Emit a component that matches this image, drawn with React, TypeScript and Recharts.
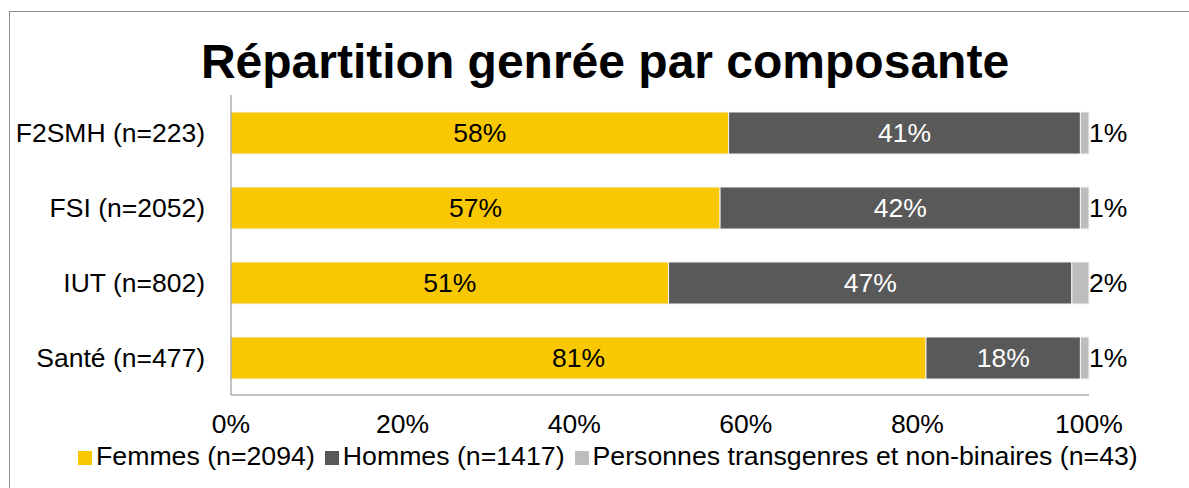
import { BarChart, Bar, XAxis, YAxis, Legend, LabelList } from "recharts";

const categories = ["F2SMH (n=223)", "FSI (n=2052)", "IUT (n=802)", "Santé (n=477)"];
const femmes = [58, 57, 51, 81];
const hommes = [41, 42, 47, 18];
const autres = [1, 1, 2, 1];
const xTicks = [0, 20, 40, 60, 80, 100];

const seriesNames = {
  femmes: "Femmes (n=2094)",
  hommes: "Hommes (n=1417)",
  autres: "Personnes transgenres et non-binaires (n=43)",
};

const data = categories.map((name, i) => ({
  name,
  femmes: femmes[i],
  hommes: hommes[i],
  autres: autres[i],
}));

const FONT = "'Liberation Sans', Arial, sans-serif";
const FS = 26.5;
const pct = (v: any) => `${v}%`;

const App = () => {
  return (
    <div style={{ position: "absolute", left: 0, top: 0, width: 1189, height: 488, fontFamily: FONT }}>
      <div
        style={{
          position: "absolute",
          left: 9,
          top: 11,
          width: 1180,
          height: 477,
          boxSizing: "border-box",
          borderLeft: "1px solid #8c8c8c",
          borderTop: "1px solid #8c8c8c",
        }}
      />
      <div
        style={{
          position: "absolute",
          left: 0,
          top: 34,
          width: 1210,
          textAlign: "center",
          fontSize: 48,
          fontWeight: "bold",
          color: "#000",
          whiteSpace: "nowrap",
        }}
      >
        Répartition genrée par composante
      </div>
      <div style={{ position: "absolute", left: 0, top: 0 }}>
        <BarChart
          width={1189}
          height={488}
          data={data}
          layout="vertical"
          margin={{ top: 95, right: 100, bottom: 53, left: 0 }}
          style={{ fontFamily: FONT }}
        >
          <XAxis
            type="number"
            domain={[0, 100]}
            ticks={xTicks}
            tickFormatter={pct}
            height={40}
            tickLine={false}
            tickMargin={13}
            axisLine={{ stroke: "#868686" }}
            tick={{ fill: "#000", fontSize: FS }}
          />
          <YAxis
            type="category"
            dataKey="name"
            width={231}
            tickLine={false}
            tickMargin={20}
            axisLine={{ stroke: "#868686" }}
            tick={{ fill: "#000", fontSize: FS }}
          />
          <Legend
            layout="horizontal"
            verticalAlign="middle"
            iconType="square"
            iconSize={14}
            wrapperStyle={{ left: 78, top: 441, width: "auto", fontSize: 26.7, whiteSpace: "nowrap" }}
            formatter={(value) => <span style={{ color: "#000" }}>{value}</span>}
          />
          <Bar
            dataKey="femmes"
            name={seriesNames.femmes}
            stackId="a"
            fill="#FAC800"
            stroke="#f4f4f4"
            strokeWidth={1}
            barSize={42}
            isAnimationActive={false}
          >
            <LabelList dataKey="femmes" position="center" fill="#000" fontSize={FS} formatter={pct} />
          </Bar>
          <Bar
            dataKey="hommes"
            name={seriesNames.hommes}
            stackId="a"
            fill="#595959"
            stroke="#f4f4f4"
            strokeWidth={1}
            barSize={42}
            isAnimationActive={false}
          >
            <LabelList dataKey="hommes" position="center" fill="#fff" fontSize={FS} formatter={pct} />
          </Bar>
          <Bar
            dataKey="autres"
            name={seriesNames.autres}
            stackId="a"
            fill="#BDBDBD"
            stroke="#f4f4f4"
            strokeWidth={1}
            barSize={42}
            isAnimationActive={false}
          >
            <LabelList dataKey="autres" position="right" offset={0} fill="#000" fontSize={FS} formatter={pct} />
          </Bar>
        </BarChart>
      </div>
    </div>
  );
};

export default App;
